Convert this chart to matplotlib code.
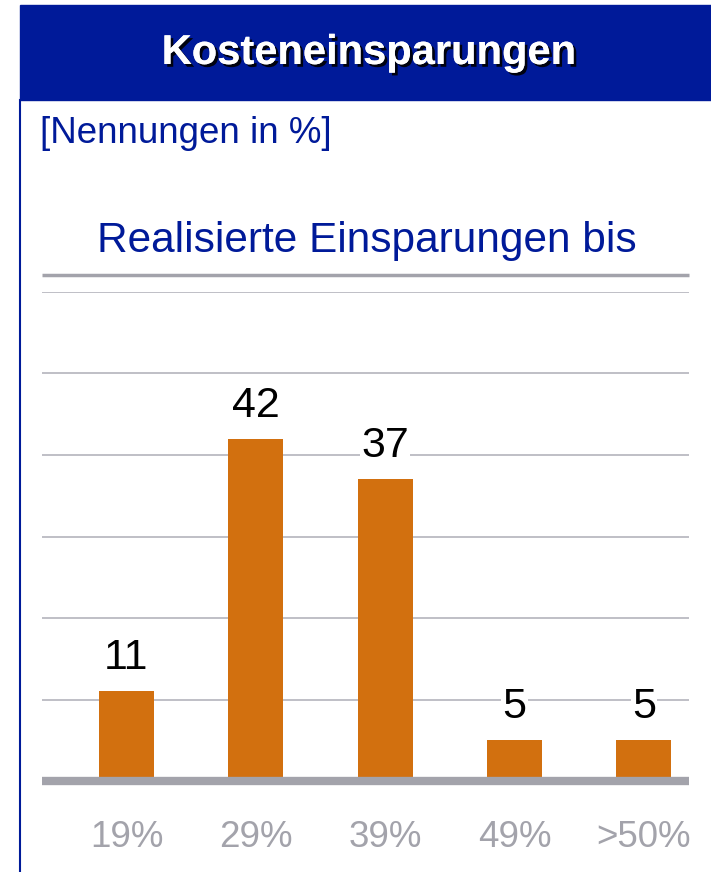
import matplotlib.pyplot as plt
import matplotlib.patheffects as pe
from matplotlib.patches import Rectangle
from matplotlib.lines import Line2D

categories = ['19%', '29%', '39%', '49%', '>50%']
values = [11, 42, 37, 5, 5]

BLUE = '#001A99'
ORANGE = '#D2700F'
GRAY = '#A3A3AB'

plt.rcParams['font.family'] = ['Liberation Sans', 'DejaVu Sans']

fig = plt.figure(figsize=(7.11, 8.72), dpi=100)

# header bar and left border
fig.patches.append(Rectangle((20 / 711, 1 - 100 / 872), 1, 95 / 872,
                             transform=fig.transFigure, color=BLUE, zorder=0))
fig.lines.append(Line2D([20 / 711, 20 / 711], [0, 1 - 100 / 872],
                        transform=fig.transFigure, color=BLUE, lw=1.5))
fig.text(369 / 711, 1 - 53 / 872, 'Kosteneinsparungen', color='white',
         fontsize=30, fontweight='bold', ha='center', va='center',
         path_effects=[pe.withSimplePatchShadow(offset=(2, -2),
                                                shadow_rgbFace='black', alpha=0.9),
                       pe.Normal()])
fig.text(40 / 711, 1 - 133 / 872, '[Nennungen in %]', color=BLUE,
         fontsize=26.5, ha='left', va='center')
fig.text(367 / 711, 1 - 241 / 872, 'Realisierte Einsparungen bis', color=BLUE,
         fontsize=30.5, ha='center', va='center')
fig.lines.append(Line2D([42 / 711, 689 / 711], [1 - 275 / 872, 1 - 275 / 872],
                        transform=fig.transFigure, color=GRAY, lw=2.5,
                        solid_capstyle='butt'))

ax = fig.add_axes([42 / 711, 1 - 781 / 872, 647 / 711, 489 / 872])
x = range(len(categories))
bars = ax.bar(x, values, width=0.425, color=ORANGE, zorder=3)
ax.set_xlim(-0.653, 4.348)
ax.set_ylim(0, 60)
for y in range(10, 61, 10):
    ax.axhline(y, color='#B4B4BC', lw=1.2, zorder=1)
ax.axhline(0, color=GRAY, lw=6, zorder=4, clip_on=False, solid_capstyle='butt')

for bar, v in zip(bars, values):
    ax.text(bar.get_x() + bar.get_width() / 2, v + 1.6, str(v),
            ha='center', va='bottom', fontsize=31, color='black', zorder=5,
            bbox=dict(facecolor='white', edgecolor='none', pad=1))

ax.set_xticks(list(x))
ax.set_xticklabels(categories, fontsize=26.5, color=GRAY)
ax.tick_params(axis='x', length=0, pad=28)
ax.set_yticks([])
for s in ax.spines.values():
    s.set_visible(False)

fig.savefig('out.png', dpi=100)
